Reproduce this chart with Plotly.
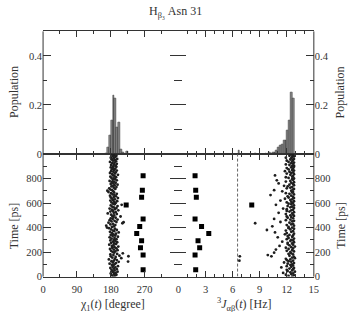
import plotly.graph_objects as go

# ---------------- data ----------------
# histogram of chi1 (degree): bin centres and populations
chi_bins = [167.5, 172.5, 177.5, 182.5, 187.5, 192.5, 197.5, 202.5, 207.5, 212.5, 222.5]
chi_pop = [0.004, 0.028, 0.076, 0.136, 0.240, 0.225, 0.108, 0.130, 0.020, 0.005, 0.010]

# histogram of 3J (Hz): bin centres and populations
j_bins = [6.7, 8.5, 9.7, 10.1, 10.3, 10.5, 10.7, 10.9, 11.1, 11.3, 11.5, 11.7, 11.9, 12.1, 12.3, 12.5, 12.7]
j_pop = [0.014, 0.004, 0.004, 0.005, 0.004, 0.005, 0.007, 0.015, 0.025, 0.035, 0.041, 0.057, 0.055, 0.097, 0.137, 0.252, 0.225]

# time series (ps)
time_ps = [
    0, 5, 10, 15, 20, 25, 30, 35, 40, 45, 50, 55, 60, 65, 70, 75, 80, 85, 90, 95,
    100, 105, 110, 115, 120, 125, 130, 135, 140, 145, 150, 155, 160, 165, 170, 175, 180, 185, 190, 195,
    200, 205, 210, 215, 220, 225, 230, 235, 240, 245, 250, 255, 260, 265, 270, 275, 280, 285, 290, 295,
    300, 305, 310, 315, 320, 325, 330, 335, 340, 345, 350, 355, 360, 365, 370, 375, 380, 385, 390, 395,
    400, 405, 410, 415, 420, 425, 430, 435, 440, 445, 450, 455, 460, 465, 470, 475, 480, 485, 490, 495,
    500, 505, 510, 515, 520, 525, 530, 535, 540, 545, 550, 555, 560, 565, 570, 575, 580, 585, 590, 595,
    600, 605, 610, 615, 620, 625, 630, 635, 640, 645, 650, 655, 660, 665, 670, 675, 680, 685, 690, 695,
    700, 705, 710, 715, 720, 725, 730, 735, 740, 745, 750, 755, 760, 765, 770, 775, 780, 785, 790, 795,
    800, 805, 810, 815, 820, 825, 830, 835, 840, 845, 850, 855, 860, 865, 870, 875, 880, 885, 890, 895,
    900, 905, 910, 915, 920, 925, 930, 935, 940, 945, 950, 955, 960, 965, 970, 975, 980, 985, 990, 995,
]
chi_t = [
    186, 191, 183, 195, 189, 180, 193, 187, 198, 184, 190, 182, 196, 188, 179, 192, 185, 199, 187, 183,
    190, 177, 194, 186, 201, 182, 188, 196, 175, 191, 208, 184, 193, 180, 203, 187, 179, 197, 212, 189,
    185, 192, 181, 198, 188, 178, 195, 184, 190, 200, 183, 187, 176, 194, 189, 181, 197, 186, 192, 179,
    188, 195, 182, 190, 177, 199, 185, 192, 180, 187, 194, 183, 201, 178, 189, 186, 196, 181, 191, 175,
    170, 183, 188, 168, 192, 179, 186, 211, 174, 195, 182, 190, 177, 198, 185, 180, 193, 187, 206, 184,
    189, 181, 196, 172, 188, 193, 179, 186, 200, 183, 191, 177, 195, 188, 184, 198, 180, 209, 190, 186,
    193, 182, 189, 197, 179, 186, 191, 184, 199, 180, 188, 194, 178, 190, 185, 196, 181, 189, 174, 187,
    171, 184, 179, 192, 176, 188, 195, 182, 186, 190, 198, 180, 187, 193, 183, 189, 177, 196, 185, 191,
    188, 182, 194, 179, 190, 186, 199, 184, 191, 178, 193, 187, 181, 196, 189, 183, 192, 186, 180, 195,
    187, 193, 181, 189, 196, 184, 190, 178, 194, 186, 191, 183, 197, 188, 180, 192, 185, 195, 189, 183,
]
j_t = [
    12.6, 12.2, 12.8, 11.9, 12.5, 12.7, 11.6, 12.4, 12.9, 12.1, 12.6, 12.0, 12.7, 12.3, 12.8, 11.4, 12.5, 12.0, 12.7, 12.4,
    12.6, 12.1, 12.8, 11.7, 12.5, 12.2, 12.7, 12.0, 12.4, 11.9, 12.9, 12.6, 12.8, 10.3, 12.3, 9.9, 12.7, 12.2, 12.5, 10.6,
    12.4, 12.8, 12.0, 12.6, 10.8, 12.2, 12.7, 11.9, 12.5, 12.9, 11.2, 12.3, 12.7, 12.1, 12.6, 12.1, 12.8, 11.5, 12.4, 12.7,
    12.5, 12.0, 12.8, 12.2, 11.0, 12.6, 12.1, 12.7, 12.3, 11.8, 12.8, 12.0, 10.7, 12.5, 12.7, 11.9, 9.8, 12.4, 12.8, 12.2,
    12.6, 12.2, 10.4, 12.8, 12.0, 12.5, 12.7, 8.5, 12.3, 11.3, 12.6, 12.8, 11.9, 12.4, 10.6, 12.7, 12.1, 12.5, 12.0, 12.8,
    12.4, 12.7, 11.9, 12.6, 11.1, 12.8, 12.3, 12.0, 12.5, 12.7, 12.0, 11.6, 12.8, 12.4, 12.6, 12.1, 12.8, 10.8, 12.5, 12.2,
    12.7, 12.0, 12.5, 12.8, 11.3, 12.4, 12.6, 11.8, 12.8, 12.2, 12.7, 12.1, 12.5, 10.2, 12.8, 12.3, 11.9, 12.6, 12.7, 11.5,
    12.5, 10.6, 12.7, 12.8, 12.0, 12.4, 12.6, 12.1, 11.7, 12.8, 12.3, 12.7, 11.1, 12.5, 12.8, 11.9, 12.4, 10.9, 12.7, 12.6,
    12.8, 12.2, 11.9, 12.6, 12.7, 10.7, 12.4, 12.8, 12.0, 12.5, 12.7, 12.3, 11.8, 12.8, 12.6, 12.2, 12.7, 12.0, 12.5, 12.8,
    12.6, 12.8, 12.3, 11.9, 12.7, 12.5, 12.8, 12.2, 12.6, 12.0, 12.7, 12.4, 12.8, 12.5, 11.9, 12.6, 12.8, 12.3, 12.7, 12.5,
]
# a few isolated frames
extra_t = [122, 166, 443]
extra_chi = [226, 227, 214]
extra_t_j = [130, 165]
extra_j = [6.75, 6.8]

# second conformer (square markers)
sq_t = [56, 176, 235, 293, 352, 408, 469, 584, 648, 704, 822]
sq_chi = [266, 266, 259, 262, 249, 257, 266, 221, 262, 264, 266]
sq_j = [1.91, 1.84, 2.35, 2.17, 3.36, 2.56, 1.84, 8.12, 1.98, 1.91, 1.84]

J_REF = 6.55  # dashed reference line (Hz)

chi_ticks = [0, 90, 180, 270]
chi_minor = [45, 135, 225, 315]
pop_ticks = [0, 0.2, 0.4]
pop_text = ["0", "0.2", "0.4"]
pop_minor = [0.1, 0.3]
time_ticks = [0, 200, 400, 600, 800]
time_minor = [100, 300, 500, 700, 900]

# ---------------- figure ----------------
W, H = 355, 312
xL = [41 / W, 179.5 / W]
xR = [179.5 / W, 318 / W]
yT = [155 / H, 280 / H]
yB = [30 / H, 155 / H]

FONT = "Liberation Serif"
TXT = "#333333"

fig = go.Figure()

bar_style = dict(marker=dict(color="#8c8c8c", line=dict(color="#222222", width=0.5)), showlegend=False)
fig.add_trace(go.Bar(x=chi_bins, y=chi_pop, width=5, xaxis="x", yaxis="y", **bar_style))
fig.add_trace(go.Bar(x=j_bins, y=j_pop, width=0.2, xaxis="x2", yaxis="y2", **bar_style))

dot = dict(mode="markers", marker=dict(color="#1e1e1e", size=2.8, line=dict(width=0)), showlegend=False)
sq = dict(mode="markers", marker=dict(color="#000000", size=5, symbol="square", line=dict(width=0)), showlegend=False)

fig.add_trace(go.Scatter(x=chi_t, y=time_ps, xaxis="x3", yaxis="y3", **dot))
fig.add_trace(go.Scatter(x=extra_chi, y=extra_t, xaxis="x3", yaxis="y3", **dot))
fig.add_trace(go.Scatter(x=sq_chi, y=sq_t, xaxis="x3", yaxis="y3", **sq))

fig.add_trace(go.Scatter(x=j_t, y=time_ps, xaxis="x4", yaxis="y4", **dot))
fig.add_trace(go.Scatter(x=extra_j, y=extra_t_j, xaxis="x4", yaxis="y4", **dot))
fig.add_trace(go.Scatter(x=sq_j, y=sq_t, xaxis="x4", yaxis="y4", **sq))
fig.add_trace(go.Scatter(x=[J_REF, J_REF], y=[0, 1000], mode="lines", xaxis="x4", yaxis="y4",
                         line=dict(color="#555555", width=0.9, dash="3px,2px"), showlegend=False))

tickfont = dict(family=FONT, size=10.5, color=TXT)


def xax(domain, anchor, rng, labels, tickvals=None, dtick=None, minor_vals=None, minor_dtick=None):
    d = dict(domain=domain, anchor=anchor, range=rng, showline=True, linecolor=TXT, linewidth=1,
             mirror="ticks", ticks="inside", ticklen=6, tickwidth=1, tickcolor=TXT,
             showgrid=False, zeroline=False, showticklabels=labels, tickfont=tickfont, fixedrange=True,
             ticklabelstandoff=3)
    if tickvals is not None:
        d.update(tickmode="array", tickvals=tickvals)
    else:
        d.update(tickmode="linear", tick0=0, dtick=dtick)
    m = dict(ticks="inside", ticklen=3, tickwidth=1, tickcolor=TXT, showgrid=False)
    if minor_vals is not None:
        m.update(tickmode="array", tickvals=minor_vals)
    else:
        m.update(dtick=minor_dtick)
    d["minor"] = m
    return d


def yax(domain, anchor, rng, side, tickvals, ticktext, minor_vals):
    return dict(domain=domain, anchor=anchor, range=rng, side=side, showline=False,
                mirror="ticks", ticks="inside", ticklen=8, tickwidth=1, tickcolor=TXT,
                tickmode="array", tickvals=tickvals, ticktext=ticktext,
                minor=dict(ticks="inside", ticklen=4, tickwidth=1, tickcolor=TXT,
                           tickmode="array", tickvals=minor_vals, showgrid=False),
                showgrid=False, zeroline=False, tickfont=tickfont, fixedrange=True)


time_text = [str(v) for v in time_ticks]

fig.update_layout(
    width=W, height=H, margin=dict(l=0, r=0, t=0, b=0),
    paper_bgcolor="white", plot_bgcolor="white", bargap=0,
    font=dict(family=FONT, color=TXT),
    xaxis=xax(xL, "y", [0, 360], False, tickvals=chi_ticks, minor_vals=chi_minor),
    xaxis2=xax(xR, "y2", [0, 15], False, dtick=3, minor_dtick=1),
    xaxis3=xax(xL, "y3", [0, 360], True, tickvals=chi_ticks, minor_vals=chi_minor),
    xaxis4=xax(xR, "y4", [0, 15], True, dtick=3, minor_dtick=1),
    yaxis=yax(yT, "x", [0, 0.5], "left", pop_ticks, pop_text, pop_minor),
    yaxis2=yax(yT, "x2", [0, 0.5], "right", pop_ticks, pop_text, pop_minor),
    yaxis3=yax(yB, "x3", [0, 1000], "left", time_ticks, time_text, time_minor),
    yaxis4=yax(yB, "x4", [0, 1000], "right", time_ticks, time_text, time_minor),
)

# outer vertical frame lines
for xp in (xL[0], xR[1]):
    fig.add_shape(type="line", xref="paper", yref="paper", x0=xp, x1=xp, y0=yB[0], y1=yT[1],
                  line=dict(color=TXT, width=1))

ann_font = dict(family=FONT, size=12, color=TXT)
anns = [
    dict(text="H<sub>β₃</sub> Asn 31", x=176 / W, y=1 - 12 / H, yanchor="middle"),
    dict(text="Population", x=11 / W, y=1 - 94 / H, textangle=-90, yanchor="middle"),
    dict(text="Population", x=345 / W, y=1 - 94 / H, textangle=-90, yanchor="middle"),
    dict(text="Time [ps]", x=11 / W, y=1 - 230 / H, textangle=-90, yanchor="middle"),
    dict(text="Time [ps]", x=345 / W, y=1 - 230 / H, textangle=-90, yanchor="middle"),
    dict(text="χ<sub>1</sub>(<i>t</i>) [degree]", x=112 / W, y=0, yanchor="bottom", yshift=-9),
    dict(text="<sup>3</sup><i>J</i><sub>αβ</sub>(<i>t</i>) [Hz]", x=247 / W, y=0, yanchor="bottom", yshift=-9),
]
for a in anns:
    fig.add_annotation(xref="paper", yref="paper", showarrow=False, font=ann_font,
                       xanchor="center", **a)

fig.write_html("out.html")
